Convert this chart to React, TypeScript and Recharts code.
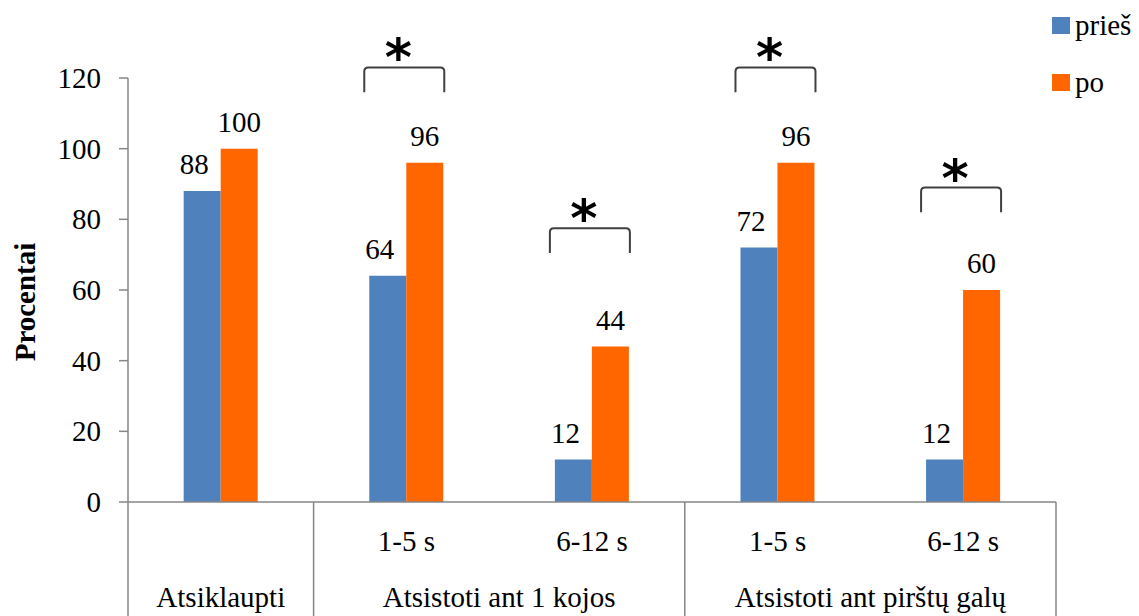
import React from 'react';
import { BarChart, Bar, XAxis, YAxis, LabelList, Legend, Label } from 'recharts';

const subLabels = ['', '1-5 s', '6-12 s', '1-5 s', '6-12 s'];
const groupNames = ['Atsiklaupti', 'Atsistoti ant 1 kojos', 'Atsistoti ant pirštų galų'];
const groupStarts = [0, 1, 3];
const groupSpans = [1, 2, 2];
const pries = [88, 64, 12, 72, 12];
const po = [100, 96, 44, 96, 60];
const bracketTop: (number | null)[] = [null, 123, 77.5, 123, 89];
const yTicks = [0, 20, 40, 60, 80, 100, 120];
const seriesNames = ['prieš', 'po'];
const seriesColors = ['#4F81BD', '#FF6600'];

const data = subLabels.map((s, i) => ({ key: 'c' + i, sub: s, pries: pries[i], po: po[i] }));

const FONT = "'Liberation Serif', 'Times New Roman', serif";
const FS = 29;
const AXIS = '#868686';
const LEG_UNITS = 7;

const YTick = (props: any) => {
  const { x, y, payload } = props;
  return (
    <text x={x} y={y + 10} textAnchor="end" fontFamily={FONT} fontSize={FS} fill="#000">
      {payload.value}
    </text>
  );
};

const XTick = (props: any) => {
  const { x, y, index, visibleTicksCount, width } = props;
  const band = width / visibleTicksCount;
  const left = x - band / 2;
  const els: any[] = [];
  if (subLabels[index]) {
    els.push(
      <text key="s" x={x} y={y + 49} textAnchor="middle" fontFamily={FONT} fontSize={FS} fill="#000">
        {subLabels[index]}
      </text>
    );
  }
  const g = groupStarts.indexOf(index);
  if (g >= 0) {
    els.push(<line key="l" x1={left} x2={left} y1={y} y2={y + 130} stroke={AXIS} strokeWidth={1.5} />);
    els.push(
      <text key="g" x={left + (groupSpans[g] * band) / 2} y={y + 105} textAnchor="middle" fontFamily={FONT} fontSize={FS} fill="#000">
        {groupNames[g]}
      </text>
    );
  }
  if (index === visibleTicksCount - 1) {
    els.push(<line key="r" x1={left + band} x2={left + band} y1={y} y2={y + 130} stroke={AXIS} strokeWidth={1.5} />);
  }
  return <g>{els}</g>;
};

const getBox = (props: any) => (props.viewBox && props.viewBox.width != null ? props.viewBox : props);

const makeValueLabel = (dx: number) => (props: any) => {
  const { x, y, width } = getBox(props);
  return (
    <text x={x + width / 2 + dx} y={y - 17} textAnchor="middle" fontFamily={FONT} fontSize={FS} fill="#000">
      {props.value}
    </text>
  );
};

const BracketLabel = (props: any) => {
  const index = props.index;
  const top = bracketTop[index];
  if (top == null) return null;
  const { x, y, width, height } = getBox(props);
  const perUnit = height / po[index];
  const base = y + height;
  const yTop = base - top * perUnit;
  const yLeg = base - (top - LEG_UNITS) * perUnit;
  const xl = x - width - 5;
  const xr = x + width + 1;
  const r = 4;
  const d = `M${xl},${yLeg} L${xl},${yTop + r} Q${xl},${yTop} ${xl + r},${yTop} L${xr - r},${yTop} Q${xr},${yTop} ${xr},${yTop + r} L${xr},${yLeg}`;
  return (
    <g>
      <path d={d} fill="none" stroke="#404040" strokeWidth={2} />
      <text x={(xl + xr) / 2 - 6} y={yTop + 8} textAnchor="middle" fontFamily="'DejaVu Sans', sans-serif" fontWeight="bold" fontSize={52} fill="#000">
        *
      </text>
    </g>
  );
};

const LegendContent = () => (
  <div style={{ fontFamily: FONT, fontSize: FS, color: '#000' }}>
    {seriesNames.map((n, i) => (
      <div key={n} style={{ display: 'flex', alignItems: 'center', height: 57, lineHeight: '57px' }}>
        <span style={{ display: 'inline-block', width: 18, height: 17, background: seriesColors[i], marginRight: 5 }} />
        <span>{n}</span>
      </div>
    ))}
  </div>
);

export default function App() {
  return (
    <div style={{ position: 'absolute', left: 0, top: 0, width: 1139, height: 616, background: '#fff', fontFamily: FONT }}>
      <BarChart
        width={1139}
        height={616}
        data={data}
        margin={{ top: 78, right: 83, bottom: 0, left: 0 }}
        barCategoryGap="30%"
        barGap={0}
      >
        <YAxis
          width={128}
          domain={[0, 120]}
          ticks={yTicks}
          interval={0}
          axisLine={{ stroke: AXIS, strokeWidth: 1.5 }}
          tickLine={{ stroke: AXIS, strokeWidth: 1.5 }}
          tickSize={9}
          tickMargin={18}
          tick={<YTick />}
        >
          <Label
            content={(p: any) => {
              const vb = p.viewBox;
              const cx = 35;
              const cy = vb.y + vb.height / 2 + 12;
              return (
                <text x={cx} y={cy} transform={`rotate(-90, ${cx}, ${cy})`} textAnchor="middle" fontFamily={FONT} fontSize={FS} fontWeight="bold" fill="#000">
                  Procentai
                </text>
              );
            }}
          />
        </YAxis>
        <XAxis
          dataKey="key"
          height={114}
          interval={0}
          axisLine={{ stroke: AXIS, strokeWidth: 1.5 }}
          tickLine={false}
          tickSize={0}
          tickMargin={0}
          tick={<XTick />}
        />
        <Legend
          layout="vertical"
          align="center"
          verticalAlign="middle"
          wrapperStyle={{ left: 1052, top: -3, width: 87, height: 120 }}
          content={<LegendContent />}
        />
        <Bar dataKey="pries" name={seriesNames[0]} fill={seriesColors[0]} isAnimationActive={false}>
          <LabelList dataKey="pries" content={makeValueLabel(-8)} />
        </Bar>
        <Bar dataKey="po" name={seriesNames[1]} fill={seriesColors[1]} isAnimationActive={false}>
          <LabelList dataKey="po" content={makeValueLabel(0)} />
          <LabelList dataKey="po" content={<BracketLabel />} />
        </Bar>
      </BarChart>
    </div>
  );
}
